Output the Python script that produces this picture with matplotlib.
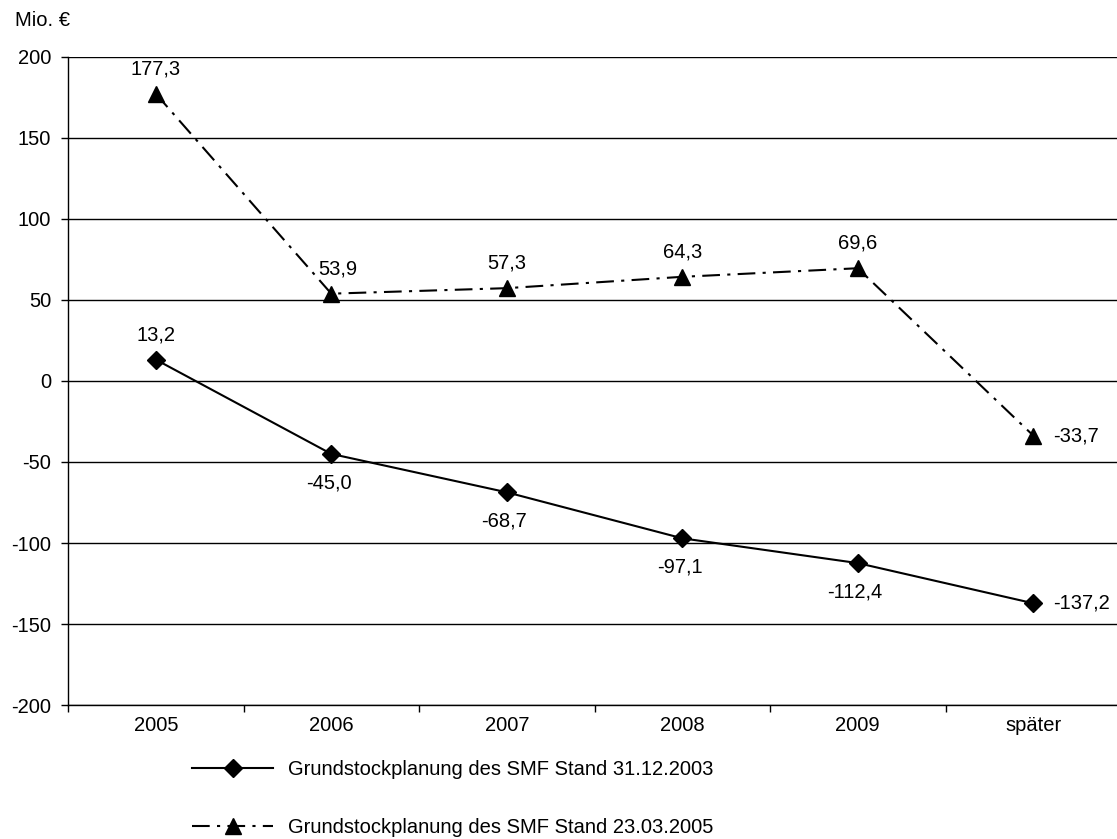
import matplotlib.pyplot as plt
import numpy as np

plt.rcParams['font.family'] = ['Liberation Sans', 'DejaVu Sans']
plt.rcParams['axes.unicode_minus'] = False

kategorien = ['2005', '2006', '2007', '2008', '2009', 'später']
stand_2003 = [13.2, -45.0, -68.7, -97.1, -112.4, -137.2]
stand_2005 = [177.3, 53.9, 57.3, 64.3, 69.6, -33.7]
label_2003 = 'Grundstockplanung des SMF Stand 31.12.2003'
label_2005 = 'Grundstockplanung des SMF Stand 23.03.2005'

fig = plt.figure(figsize=(11.17, 8.39), dpi=100)
ax = fig.add_axes([0.0609, 0.1597, 0.9427, 0.7724])

x = np.arange(len(kategorien))
fs = 14.5

ax.plot(x, stand_2003, color='black', lw=1.5, marker='D', ms=9, label=label_2003)
ax.plot(x, stand_2005, color='black', lw=1.5, marker='^', ms=11,
        dashes=(8.5, 3.5, 1.5, 3.5), label=label_2005)

# Werte beschriften
def fmt(v):
    return f'{v:.1f}'.replace('.', ',')

def beschriften(i, v, lage, dx=0):
    if lage == 'rechts':
        ax.annotate(fmt(v), (x[i], v), xytext=(14, 0), textcoords='offset points',
                    ha='left', va='center', fontsize=fs)
    elif lage == 'oben':
        ax.annotate(fmt(v), (x[i], v), xytext=(dx, 11), textcoords='offset points',
                    ha='center', va='bottom', fontsize=fs)
    else:
        ax.annotate(fmt(v), (x[i], v), xytext=(dx - 2, -14), textcoords='offset points',
                    ha='center', va='top', fontsize=fs)

for i, v in enumerate(stand_2003):
    if i == len(x) - 1:
        beschriften(i, v, 'rechts')
    elif v > 0:
        beschriften(i, v, 'oben')
    else:
        beschriften(i, v, 'unten')

for i, v in enumerate(stand_2005):
    if i == len(x) - 1:
        beschriften(i, v, 'rechts')
    else:
        beschriften(i, v, 'oben', dx=5 if i == 1 else 0)

ax.set_xlim(-0.5, len(x) - 0.5)
ax.set_ylim(-200, 200)
ax.set_yticks(np.arange(-200, 201, 50))
ax.yaxis.grid(True, color='black', lw=1)
ax.set_axisbelow(True)

ax.set_xticks(np.arange(-0.5, len(x), 1.0))
ax.set_xticklabels([])
ax.set_xticks(x, minor=True)
ax.set_xticklabels(kategorien, minor=True)
ax.tick_params(axis='x', which='major', length=5, width=1, color='black')
ax.tick_params(axis='x', which='minor', length=0, pad=8, labelsize=fs)
ax.tick_params(axis='y', length=5, width=1, labelsize=fs, pad=7)

for s in ['top', 'right']:
    ax.spines[s].set_visible(False)
ax.spines['left'].set_linewidth(1)
ax.spines['bottom'].set_linewidth(1)

fig.text(0.013, 0.975, 'Mio. €', fontsize=fs, ha='left', va='center')

fig.legend(loc='upper left', bbox_to_anchor=(0.165, 0.104), frameon=False,
           fontsize=fs, handlelength=4.0, handletextpad=0.75, labelspacing=1.95,
           borderaxespad=0)

fig.savefig('out.png', dpi=100)
